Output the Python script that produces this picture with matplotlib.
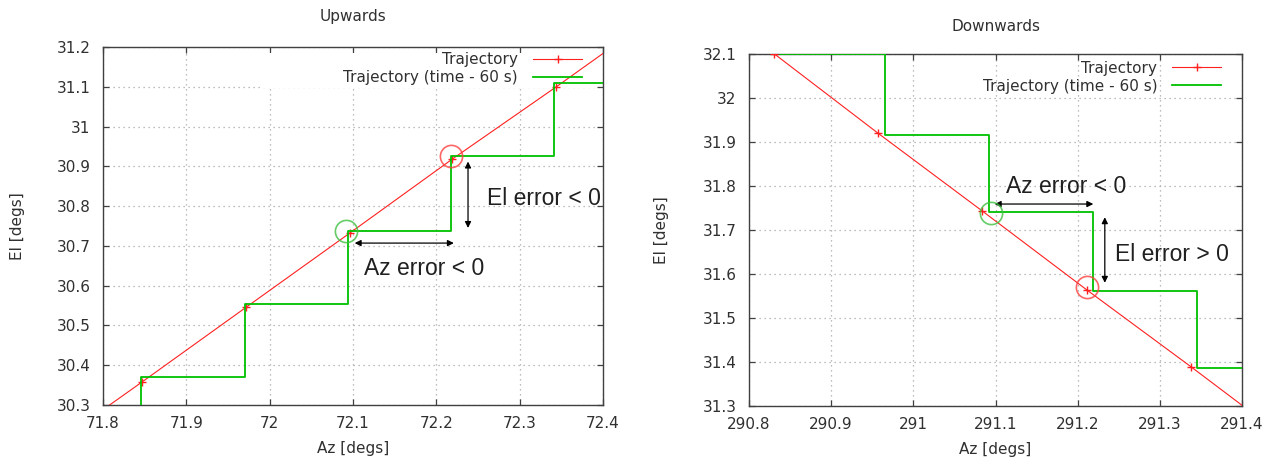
## Az/El trajectory vs. trajectory delayed by 60 s, upwards and downwards passes
import matplotlib.pyplot as plt
from matplotlib.patches import Rectangle
from matplotlib.ticker import FuncFormatter

##------------------------------------ data ------------------------------------
# upwards pass
up_az = [71.722, 71.847, 71.972, 72.096, 72.219, 72.344, 72.469]
up_el = [30.172, 30.358, 30.546, 30.732, 30.918, 31.100, 31.287]
up_lag_az = [71.722, 71.846, 71.971, 72.094, 72.218, 72.341, 72.466]
up_lag_el = [30.180, 30.370, 30.554, 30.738, 30.926, 31.109, 31.290]
up_xticks = [71.8, 71.9, 72.0, 72.1, 72.2, 72.3, 72.4]
up_yticks = [30.3, 30.4, 30.5, 30.6, 30.7, 30.8, 30.9, 31.0, 31.1, 31.2]

# downwards pass
down_az = [290.831, 290.957, 291.084, 291.211, 291.338, 291.465]
down_el = [32.100, 31.920, 31.743, 31.564, 31.389, 31.210]
down_lag_az = [290.838, 290.965, 291.092, 291.219, 291.345, 291.472]
down_lag_el = [32.100, 31.917, 31.741, 31.562, 31.386, 31.210]
down_xticks = [290.8, 290.9, 291.0, 291.1, 291.2, 291.3, 291.4]
down_yticks = [31.3, 31.4, 31.5, 31.6, 31.7, 31.8, 31.9, 32.0, 32.1]

# circled points: (az, el, colour)
up_circles = [(72.218, 30.926, '#ff4040'), (72.092, 30.737, '#40c040')]
down_circles = [(291.094, 31.738, '#40c040'), (291.211, 31.570, '#ff4040')]

# error arrows: (az0, el0, az1, el1)
up_arrows = [(72.238, 30.912, 72.238, 30.745), (72.102, 30.707, 72.221, 30.707)]
down_arrows = [(291.099, 31.759, 291.219, 31.759), (291.233, 31.729, 291.233, 31.580)]

# error labels: (az, el, text, clipped)
up_notes = [(72.261, 30.818, 'El error < 0', True), (72.113, 30.644, 'Az error < 0', False)]
down_notes = [(291.113, 31.798, 'Az error < 0', False), (291.245, 31.645, 'El error > 0', False)]

plt.rcParams['font.family'] = ['DejaVu Sans']
plt.rcParams['font.size'] = 11

fig = plt.figure(figsize=(12.79, 4.61), dpi=100)
ax_up = fig.add_axes([0.0805, 0.1215, 0.391, 0.7766])
ax_down = fig.add_axes([0.5856, 0.1193, 0.3855, 0.7636])

txt_col = '#303030'
fmt = FuncFormatter(lambda v, p: '%g' % round(v, 3))


def draw_panel(ax, az, el, lag_az, lag_el, xticks, yticks, circles, arrows, notes,
               title, title_pad, key_top, mask=None):
    """one gnuplot-looking panel"""
    ax.plot(az, el, color='#ff2020', lw=0.8, marker='+', ms=6, mew=1,
            label='Trajectory', zorder=3)
    ax.plot(lag_az, lag_el, color='#00c000', lw=1.3, drawstyle='steps-post',
            label='Trajectory (time - 60 s)', zorder=3)

    for cx, cy, c in circles:
        ax.plot(cx, cy, marker='o', ms=16, mfc='none', mec=c, mew=1.2, alpha=0.8, zorder=4)

    for x0, y0, x1, y1 in arrows:
        ax.annotate('', xy=(x1, y1), xytext=(x0, y0),
                    arrowprops=dict(arrowstyle='<|-|>', color='black', lw=0.9,
                                    mutation_scale=9, shrinkA=0, shrinkB=0))

    for tx, ty, s, clip in notes:
        ax.text(tx, ty, s, family='Liberation Sans', fontsize=16.5, color='#202020',
                ha='left', va='center', clip_on=clip, zorder=5)

    ax.set_xlim(xticks[0], xticks[-1])
    ax.set_ylim(yticks[0], yticks[-1])
    ax.set_xticks(xticks)
    ax.set_yticks(yticks)
    ax.xaxis.set_major_formatter(fmt)
    ax.yaxis.set_major_formatter(fmt)
    ax.tick_params(direction='in', length=4, width=0.9, color='#404040',
                   top=True, right=True, labelcolor=txt_col, labelsize=11)
    ax.tick_params(axis='y', pad=9)
    ax.tick_params(axis='x', pad=8)
    ax.grid(color='#a8a8a8', linestyle=(0, (1, 3)), lw=0.9)
    for s in ax.spines.values():
        s.set_color('#404040')
        s.set_linewidth(1)

    # opaque key background like gnuplot (hides the grid behind the key)
    if mask is not None:
        ax.add_patch(Rectangle((mask[0], mask[1]), mask[2], mask[3], transform=ax.transAxes,
                               facecolor='white', edgecolor='none', zorder=1.6))

    ax.legend(loc='upper right', bbox_to_anchor=(0.958, key_top), markerfirst=False,
              frameon=False, borderpad=0, borderaxespad=0, labelspacing=0.2,
              handlelength=3.2, handletextpad=1.0, numpoints=1, labelcolor=txt_col,
              fontsize=11)

    ax.set_title(title, fontsize=11, color=txt_col, pad=title_pad)
    ax.set_xlabel('Az [degs]', color=txt_col)
    ax.set_ylabel('El [degs]', color=txt_col)


draw_panel(ax_up, up_az, up_el, up_lag_az, up_lag_el, up_xticks, up_yticks,
           up_circles, up_arrows, up_notes, 'Upwards', 18.5, 0.986,
           mask=(0.318, 0.885, 0.668, 0.098))
draw_panel(ax_down, down_az, down_el, down_lag_az, down_lag_el, down_xticks, down_yticks,
           down_circles, down_arrows, down_notes, 'Downwards', 16.5, 0.981)

ax_up.yaxis.set_label_coords(-0.156, 0.5)
ax_up.xaxis.set_label_coords(0.5, -0.100)
ax_down.yaxis.set_label_coords(-0.162, 0.5)
ax_down.xaxis.set_label_coords(0.5, -0.102)

fig.savefig('out.png', dpi=100)
